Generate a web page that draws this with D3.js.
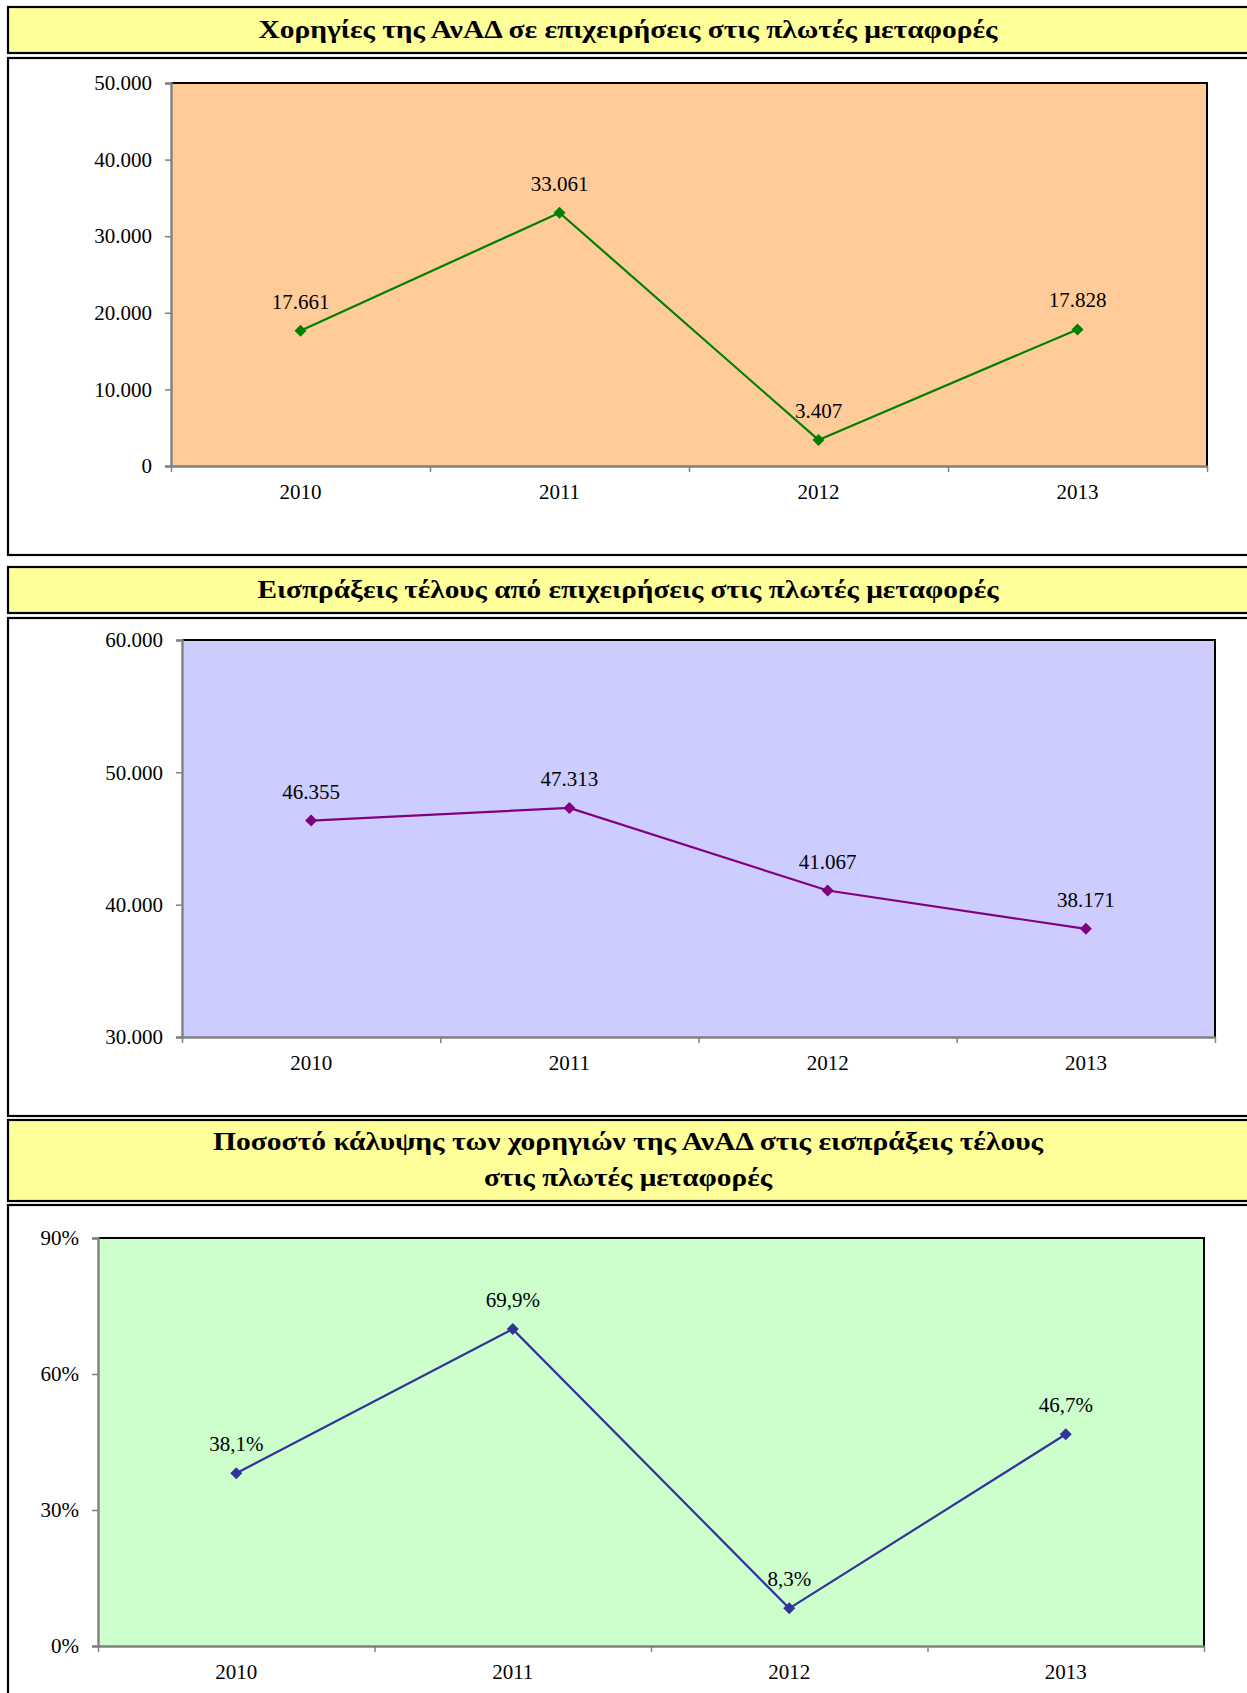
<!DOCTYPE html>
<html>
<head>
<meta charset="utf-8">
<script src="https://cdn.jsdelivr.net/npm/d3@7"></script>
<style>
  html, body { margin: 0; padding: 0; background: #fff; }
  svg { display: block; }
  text { font-family: "Liberation Serif", "Times New Roman", serif; }
</style>
</head>
<body>
<svg id="chart" width="1247" height="1693"></svg>
<script>
// ---- data ----
const years = ["2010", "2011", "2012", "2013"];
const subsidies = [17661, 33061, 3407, 17828];
const feeRevenues = [46355, 47313, 41067, 38171];
const coveragePct = [38.1, 69.9, 8.3, 46.7];

const ticksSubsidies = [0, 10000, 20000, 30000, 40000, 50000];
const ticksRevenues = [30000, 40000, 50000, 60000];
const ticksCoverage = [0, 30, 60, 90];

const title1 = ["Χορηγίες της ΑνΑΔ σε επιχειρήσεις στις πλωτές μεταφορές"];
const title2 = ["Εισπράξεις τέλους από επιχειρήσεις στις πλωτές μεταφορές"];
const title3 = ["Ποσοστό κάλυψης των χορηγιών της ΑνΑΔ στις εισπράξεις τέλους", "στις πλωτές μεταφορές"];
const title1Widths = [739];
const title2Widths = [741];
const title3Widths = [830, 288];

// ---- formatting ----
const loc = d3.formatLocale({decimal: ",", thousands: ".", grouping: [3], currency: ["", "€"]});
const fmtInt = loc.format(",.0f");
const fmtPct1 = v => loc.format(".1f")(v) + "%";
const fmtPct0 = v => loc.format(".0f")(v) + "%";

const svg = d3.select("#chart");

function titleBox(y, h, lines, lineYs, widths) {
  svg.append("rect").attr("x", 8).attr("y", y).attr("width", 1260).attr("height", h)
    .attr("fill", "#FFFF99").attr("stroke", "#000").attr("stroke-width", 2.2);
  lines.forEach((t, i) => {
    svg.append("text").attr("x", 628).attr("y", lineYs[i])
      .attr("text-anchor", "middle").attr("font-weight", "bold")
      .attr("font-size", 25).attr("fill", "#000")
      .attr("textLength", widths[i]).attr("lengthAdjust", "spacingAndGlyphs")
      .text(t);
  });
}

function chartBox(y, h) {
  svg.append("rect").attr("x", 8).attr("y", y).attr("width", 1260).attr("height", h)
    .attr("fill", "#fff").attr("stroke", "#000").attr("stroke-width", 2.2);
}

function lineChart(o) {
  const g = svg.append("g");
  const x = d3.scaleBand().domain(years).range([o.left, o.right]).padding(0);
  const xb = d3.scaleLinear().domain([0, years.length]).range([o.left, o.right]);
  const y = d3.scaleLinear().domain(o.domain).range([o.bottom, o.top]);

  g.append("rect").attr("x", o.left).attr("y", o.top)
    .attr("width", o.right - o.left).attr("height", o.bottom - o.top)
    .attr("fill", o.bg);
  g.append("path")
    .attr("d", `M${o.left},${o.top}H${o.right}V${o.bottom}`)
    .attr("fill", "none").attr("stroke", "#000").attr("stroke-width", 2);

  const ya = g.append("g").attr("transform", `translate(${o.left},0)`)
    .call(d3.axisLeft(y).tickValues(o.ticks).tickFormat(o.tickFmt).tickSize(6).tickPadding(13));
  ya.select(".domain").attr("stroke", "#808080").attr("stroke-width", 2.4);
  ya.selectAll(".tick line").attr("stroke", "#808080").attr("stroke-width", 1.5);
  ya.selectAll(".tick text").attr("font-size", 21).attr("fill", "#000");

  const xa = g.append("g").attr("transform", `translate(0,${o.bottom})`)
    .call(d3.axisBottom(xb).tickValues(d3.range(0, years.length + 1)).tickFormat("").tickSize(6).tickSizeOuter(0));
  xa.select(".domain").attr("stroke", "#808080").attr("stroke-width", 2.4);
  xa.selectAll(".tick line").attr("stroke", "#808080").attr("stroke-width", 1.5);

  g.selectAll(".xl").data(years).join("text")
    .attr("x", d => x(d) + x.bandwidth() / 2).attr("y", o.bottom + 33)
    .attr("text-anchor", "middle").attr("font-size", 21).attr("fill", "#000").text(d => d);

  const pts = years.map((d, i) => [x(d) + x.bandwidth() / 2, y(o.values[i])]);
  g.append("path").attr("d", d3.line()(pts)).attr("fill", "none")
    .attr("stroke", o.color).attr("stroke-width", 2.2);
  g.selectAll(".mk").data(pts).join("path")
    .attr("d", d3.symbol(d3.symbolSquare, 72))
    .attr("transform", p => `translate(${p[0]},${p[1]}) rotate(45)`)
    .attr("fill", o.color);
  g.selectAll(".lbl").data(o.values).join("text")
    .attr("x", (v, i) => pts[i][0]).attr("y", (v, i) => pts[i][1] - 22)
    .attr("text-anchor", "middle").attr("font-size", 21).attr("fill", "#000")
    .text(o.labelFmt);
}

// Chart 1
titleBox(7, 46, title1, [38], title1Widths);
chartBox(58, 497);
lineChart({left: 171, right: 1207, top: 83, bottom: 466, domain: [0, 50000],
  ticks: ticksSubsidies, tickFmt: fmtInt, values: subsidies, labelFmt: fmtInt,
  bg: "#FFCC99", color: "#008000"});

// Chart 2
titleBox(567, 46, title2, [598], title2Widths);
chartBox(618, 498);
lineChart({left: 182, right: 1215, top: 640, bottom: 1037, domain: [30000, 60000],
  ticks: ticksRevenues, tickFmt: fmtInt, values: feeRevenues, labelFmt: fmtInt,
  bg: "#CCCCFF", color: "#800080"});

// Chart 3
titleBox(1120, 81, title3, [1150, 1186], title3Widths);
chartBox(1205, 520);
lineChart({left: 98, right: 1204, top: 1238, bottom: 1646, domain: [0, 90],
  ticks: ticksCoverage, tickFmt: fmtPct0, values: coveragePct, labelFmt: fmtPct1,
  bg: "#CCFFCC", color: "#333399"});
</script>
</body>
</html>
